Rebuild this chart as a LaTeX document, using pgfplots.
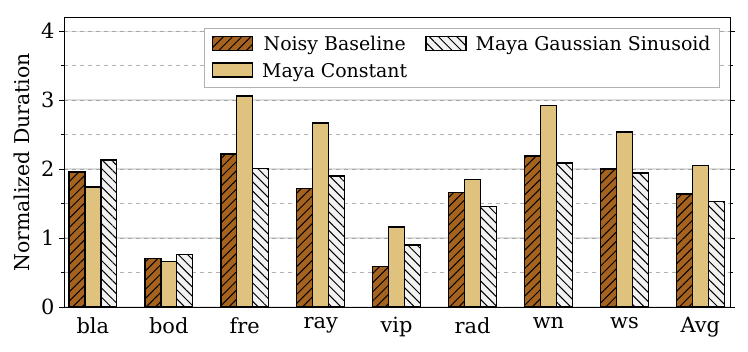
\documentclass[border=0pt]{standalone}
\usepackage{fontspec}
\setmainfont{DejaVu Serif}
\usepackage{pgfplots}
\pgfplotsset{compat=1.18}
\usetikzlibrary{patterns.meta}
\definecolor{nbbrown}{RGB}{166,99,32}
\definecolor{mctan}{RGB}{223,194,125}
\definecolor{mgsgray}{RGB}{242,242,242}

\begin{document}
\begin{tikzpicture}
\begin{axis}[
    scale only axis,
    width=666bp, height=289bp,
    xmin=-0.38, xmax=8.39,
    ymin=0, ymax=4.19,
    xtick={0,...,8},
    xticklabels={bla,bod,fre,ray,vip,rad,wn,ws,Avg},
    ytick={0,1,2,3,4},
    minor ytick={0.5,1.5,2.5,3.5},
    tick align=outside,
    major tick length=5bp,
    minor tick length=3bp,
    xtick style={draw=none},
    ytick style={black, line width=0.8bp},
    ymajorgrids, yminorgrids,
    major grid style={gray!70, line width=0.7bp, dash pattern=on 4bp off 4bp, preaction={draw=gray!25, solid, line width=1.2bp}},
    minor grid style={gray!60, line width=0.7bp, dash pattern=on 4bp off 4bp},
    axis line style={black, line width=1bp},
    ylabel={Normalized Duration},
    ylabel style={font=\fontsize{20.5}{24}\selectfont, yshift=5bp},
    ticklabel style={font=\fontsize{21}{24}\selectfont},
    /pgf/number format/assume math mode=true,
    xticklabel style={yshift=-2bp},
    yticklabel style={xshift=-1bp},
    ybar=0pt,
    bar width=0.21,
    legend columns=2,
    transpose legend,
    legend style={at={(0.985,0.965)}, anchor=north east, draw=gray!60, line width=0.8bp,
        font=\fontsize{19}{22}\selectfont, row sep=7bp,
        /tikz/every even column/.append style={column sep=16bp},
        /tikz/every odd column/.append style={column sep=7bp},
        inner xsep=7bp, inner ysep=6bp},
    legend image code/.code={
        \draw[#1] (0bp,-6bp) rectangle (40bp,8bp);
    },
    every axis plot/.append style={draw=black, line width=1.4bp},
]
\addplot[fill=nbbrown, postaction={pattern={Lines[angle=45,distance=6.5bp,line width=1bp]}, pattern color=black}]
  coordinates {(0,1.96) (1,0.70) (2,2.22) (3,1.72) (4,0.59) (5,1.66) (6,2.19) (7,2.00) (8,1.64)};
\addlegendentry{Noisy Baseline}
\addplot[fill=mctan]
  coordinates {(0,1.74) (1,0.66) (2,3.06) (3,2.67) (4,1.16) (5,1.85) (6,2.92) (7,2.54) (8,2.05)};
\addlegendentry{Maya Constant}
\addplot[fill=mgsgray, postaction={pattern={Lines[angle=-45,distance=6.5bp,line width=1bp]}, pattern color=black}]
  coordinates {(0,2.13) (1,0.76) (2,2.01) (3,1.90) (4,0.90) (5,1.46) (6,2.09) (7,1.94) (8,1.53)};
\addlegendentry{Maya Gaussian Sinusoid}
\end{axis}
\pgfresetboundingbox
\useasboundingbox ([xshift=-64bp,yshift=-45bp]current axis.south west) rectangle ([xshift=18bp,yshift=18bp]current axis.north east);
\end{tikzpicture}
\end{document}
